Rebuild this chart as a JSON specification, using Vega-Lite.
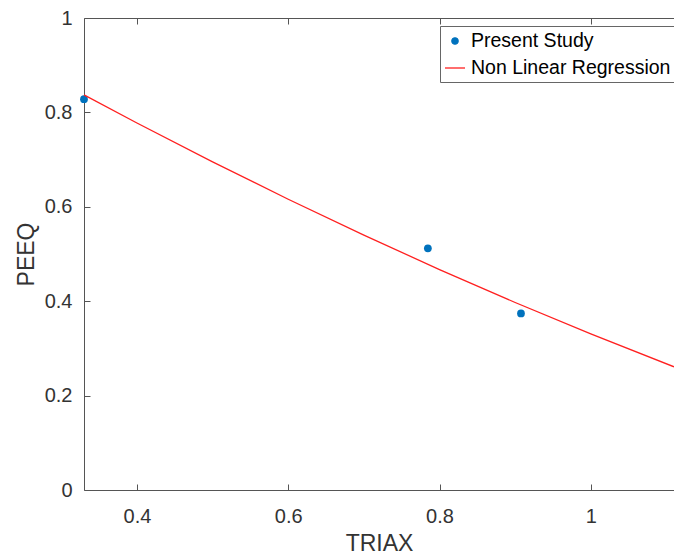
{
  "$schema": "https://vega.github.io/schema/vega-lite/v6.json",
  "width": 590,
  "height": 472,
  "autosize": "none",
  "padding": {"left": 84, "top": 18, "right": 0, "bottom": 66},
  "background": "white",
  "config": {
    "view": {"stroke": null},
    "font": "Liberation Sans",
    "axis": {
      "grid": false,
      "domainColor": "#555555",
      "tickColor": "#555555",
      "labelColor": "#333333",
      "titleColor": "#333333",
      "labelFont": "Liberation Sans",
      "titleFont": "Liberation Sans",
      "labelFontSize": 20,
      "titleFontSize": 23,
      "titleFontWeight": "normal",
      "tickSize": -6,
      "domainWidth": 1,
      "tickWidth": 1
    },
    "legend": {
      "orient": "none",
      "legendX": 356,
      "legendY": 8,
      "padding": 4,
      "rowPadding": 6,
      "symbolSize": 400,
      "labelOffset": 5,
      "labelFont": "Liberation Sans",
      "labelFontSize": 19.5,
      "labelColor": "#000000",
      "labelLimit": 400,
      "strokeColor": "#666666",
      "fillColor": "#ffffff"
    }
  },
  "datasets": {
    "study": [
      {"TRIAX": 0.33, "PEEQ": 0.828, "series": "Present Study"},
      {"TRIAX": 0.7846, "PEEQ": 0.512, "series": "Present Study"},
      {"TRIAX": 0.9077, "PEEQ": 0.374, "series": "Present Study"}
    ],
    "fit": [
      {"TRIAX": 0.33, "PEEQ": 0.837, "series": "Non Linear Regression"},
      {"TRIAX": 0.4, "PEEQ": 0.7775, "series": "Non Linear Regression"},
      {"TRIAX": 0.5, "PEEQ": 0.6952, "series": "Non Linear Regression"},
      {"TRIAX": 0.6, "PEEQ": 0.616, "series": "Non Linear Regression"},
      {"TRIAX": 0.7, "PEEQ": 0.54, "series": "Non Linear Regression"},
      {"TRIAX": 0.8, "PEEQ": 0.467, "series": "Non Linear Regression"},
      {"TRIAX": 0.9, "PEEQ": 0.3973, "series": "Non Linear Regression"},
      {"TRIAX": 1.0, "PEEQ": 0.3306, "series": "Non Linear Regression"},
      {"TRIAX": 1.11, "PEEQ": 0.261, "series": "Non Linear Regression"}
    ]
  },
  "layer": [
    {
      "data": {"name": "study"},
      "mark": {"type": "point", "filled": true, "opacity": 1, "size": 60, "clip": false},
      "encoding": {
        "x": {
          "field": "TRIAX", "type": "quantitative",
          "scale": {"domain": [0.33, 1.11], "nice": false, "zero": false},
          "axis": {"orient": "bottom", "title": "TRIAX", "values": [0.4, 0.6, 0.8, 1], "format": ".1~f", "labelPadding": 22, "titlePadding": 6}
        },
        "y": {
          "field": "PEEQ", "type": "quantitative",
          "scale": {"domain": [0, 1], "nice": false},
          "axis": {"title": "PEEQ", "values": [0, 0.2, 0.4, 0.6, 0.8, 1], "format": ".1~f", "labelPadding": 18, "titlePadding": 6}
        },
        "color": {
          "field": "series", "type": "nominal",
          "scale": {"domain": ["Present Study", "Non Linear Regression"], "range": ["#0072BD", "#ff2020"]},
          "legend": {
            "title": null,
            "encode": {
              "symbols": {
                "update": {
                  "shape": {"signal": "datum.value === 'Present Study' ? 'circle' : 'stroke'"},
                  "size": {"signal": "datum.value === 'Present Study' ? 40 : 400"},
                  "fill": {"signal": "datum.value === 'Present Study' ? '#1a8fe0' : 'transparent'"},
                  "stroke": {"signal": "datum.value === 'Present Study' ? 'transparent' : '#ff4040'"},
                  "strokeWidth": {"value": 1.3},
                  "opacity": {"value": 1}
                }
              }
            }
          }
        }
      }
    },
    {
      "data": {"name": "fit"},
      "mark": {"type": "line", "strokeWidth": 1.3, "clip": false},
      "encoding": {
        "x": {
          "field": "TRIAX", "type": "quantitative",
          "axis": {"orient": "top", "title": null, "labels": false, "values": [0.4, 0.6, 0.8, 1]}
        },
        "y": {"field": "PEEQ", "type": "quantitative"},
        "color": {
          "field": "series", "type": "nominal",
          "legend": {
            "title": null,
            "encode": {
              "symbols": {
                "update": {
                  "shape": {"signal": "datum.value === 'Present Study' ? 'circle' : 'stroke'"},
                  "size": {"signal": "datum.value === 'Present Study' ? 40 : 400"},
                  "fill": {"signal": "datum.value === 'Present Study' ? '#1a8fe0' : 'transparent'"},
                  "stroke": {"signal": "datum.value === 'Present Study' ? 'transparent' : '#ff4040'"},
                  "strokeWidth": {"value": 1.3},
                  "opacity": {"value": 1}
                }
              }
            }
          }
        }
      }
    }
  ],
  "resolve": {"axis": {"x": "independent"}}
}
